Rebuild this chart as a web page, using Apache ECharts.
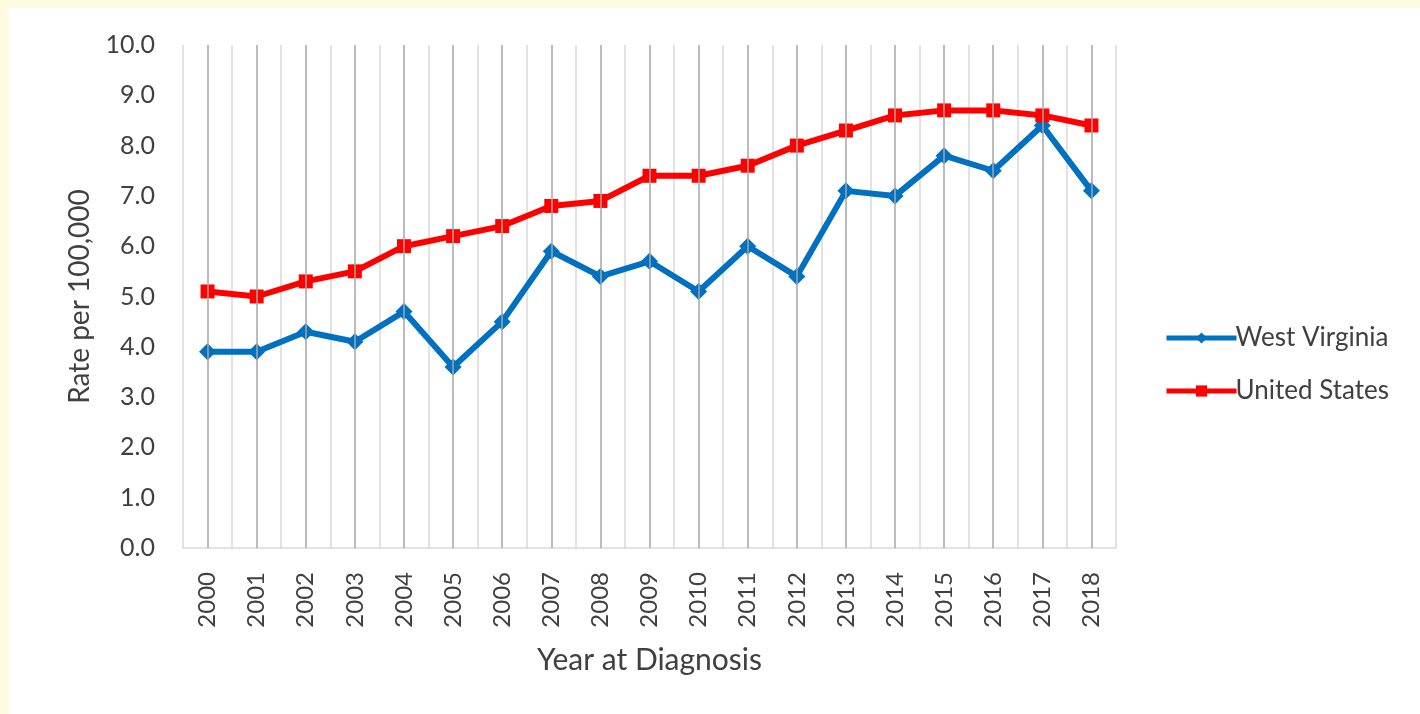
<!DOCTYPE html>
<html>
<head>
<meta charset="utf-8">
<script src="https://cdn.jsdelivr.net/npm/echarts@6/dist/echarts.min.js"></script>
<style>
  html, body { margin: 0; padding: 0; background: #fffbe1; }
  #main { position: absolute; left: 9px; top: 8px; width: 1411px; height: 706px; background: #ffffff; }
</style>
</head>
<body>
<div id="main"></div>
<script>
// data
const years = ['2000', '2001', '2002', '2003', '2004', '2005', '2006', '2007', '2008', '2009',
  '2010', '2011', '2012', '2013', '2014', '2015', '2016', '2017', '2018'];
const westVirginia = [3.9, 3.9, 4.3, 4.1, 4.7, 3.6, 4.5, 5.9, 5.4, 5.7, 5.1, 6.0, 5.4, 7.1, 7.0, 7.8, 7.5, 8.4, 7.1];
const unitedStates = [5.1, 5.0, 5.3, 5.5, 6.0, 6.2, 6.4, 6.8, 6.9, 7.4, 7.4, 7.6, 8.0, 8.3, 8.6, 8.7, 8.7, 8.6, 8.4];

const font = 'Lato, "Open Sans", sans-serif';
const textColor = '#404040';

const myChart = echarts.init(document.getElementById('main'));

const option = {
  animation: false,
  textStyle: { fontFamily: font },
  grid: { left: 174, right: 304, top: 37, bottom: 166 },
  legend: {
    orient: 'vertical',
    left: 1150,
    top: 312,
    itemGap: 27,
    itemWidth: 70,
    itemHeight: 14,
    lineStyle: { width: 5 },
    textStyle: { fontFamily: font, fontSize: 26, color: textColor, padding: [0, 0, 0, -6] },
    data: ['West Virginia', 'United States']
  },
  xAxis: {
    type: 'category',
    data: years,
    boundaryGap: true,
    name: 'Year at Diagnosis',
    nameLocation: 'middle',
    nameGap: 97,
    nameTextStyle: { fontFamily: font, fontSize: 30, color: textColor },
    axisLine: { lineStyle: { color: '#d9d9d9', width: 1.5 } },
    axisTick: { length: 12, lineStyle: { color: '#d9d9d9', width: 1.5 } },
    axisLabel: { rotate: 90, margin: 24, fontFamily: font, fontSize: 24, color: textColor },
    splitLine: { show: true, lineStyle: { color: '#d9d9d9', width: 1.5 } }
  },
  yAxis: {
    type: 'value',
    min: 0,
    max: 10,
    interval: 1,
    name: 'Rate per 100,000',
    nameLocation: 'middle',
    nameGap: 89,
    nameTextStyle: { fontFamily: font, fontSize: 28, color: textColor },
    axisLine: { show: false },
    axisTick: { show: false },
    splitLine: { show: false },
    axisLabel: {
      margin: 28,
      fontFamily: font,
      fontSize: 25,
      color: textColor,
      formatter: v => v.toFixed(1)
    }
  },
  series: [
    {
      // darker lines through every year
      name: 'yearLines',
      type: 'line',
      data: [],
      z: 1,
      silent: true,
      markLine: {
        silent: true,
        symbol: 'none',
        label: { show: false },
        lineStyle: { color: '#a6a6a6', width: 1.5, type: 'solid' },
        data: years.map(y => ({ xAxis: y }))
      }
    },
    {
      name: 'West Virginia',
      type: 'line',
      data: westVirginia,
      z: 3,
      symbol: 'diamond',
      symbolSize: 17,
      lineStyle: { color: '#0070c0', width: 6 },
      itemStyle: { color: '#0070c0' }
    },
    {
      name: 'United States',
      type: 'line',
      data: unitedStates,
      z: 4,
      symbol: 'rect',
      symbolSize: 14,
      lineStyle: { color: '#ff0000', width: 6 },
      itemStyle: { color: '#ff0000' }
    }
  ]
};
myChart.setOption(option);
</script>
</body>
</html>
